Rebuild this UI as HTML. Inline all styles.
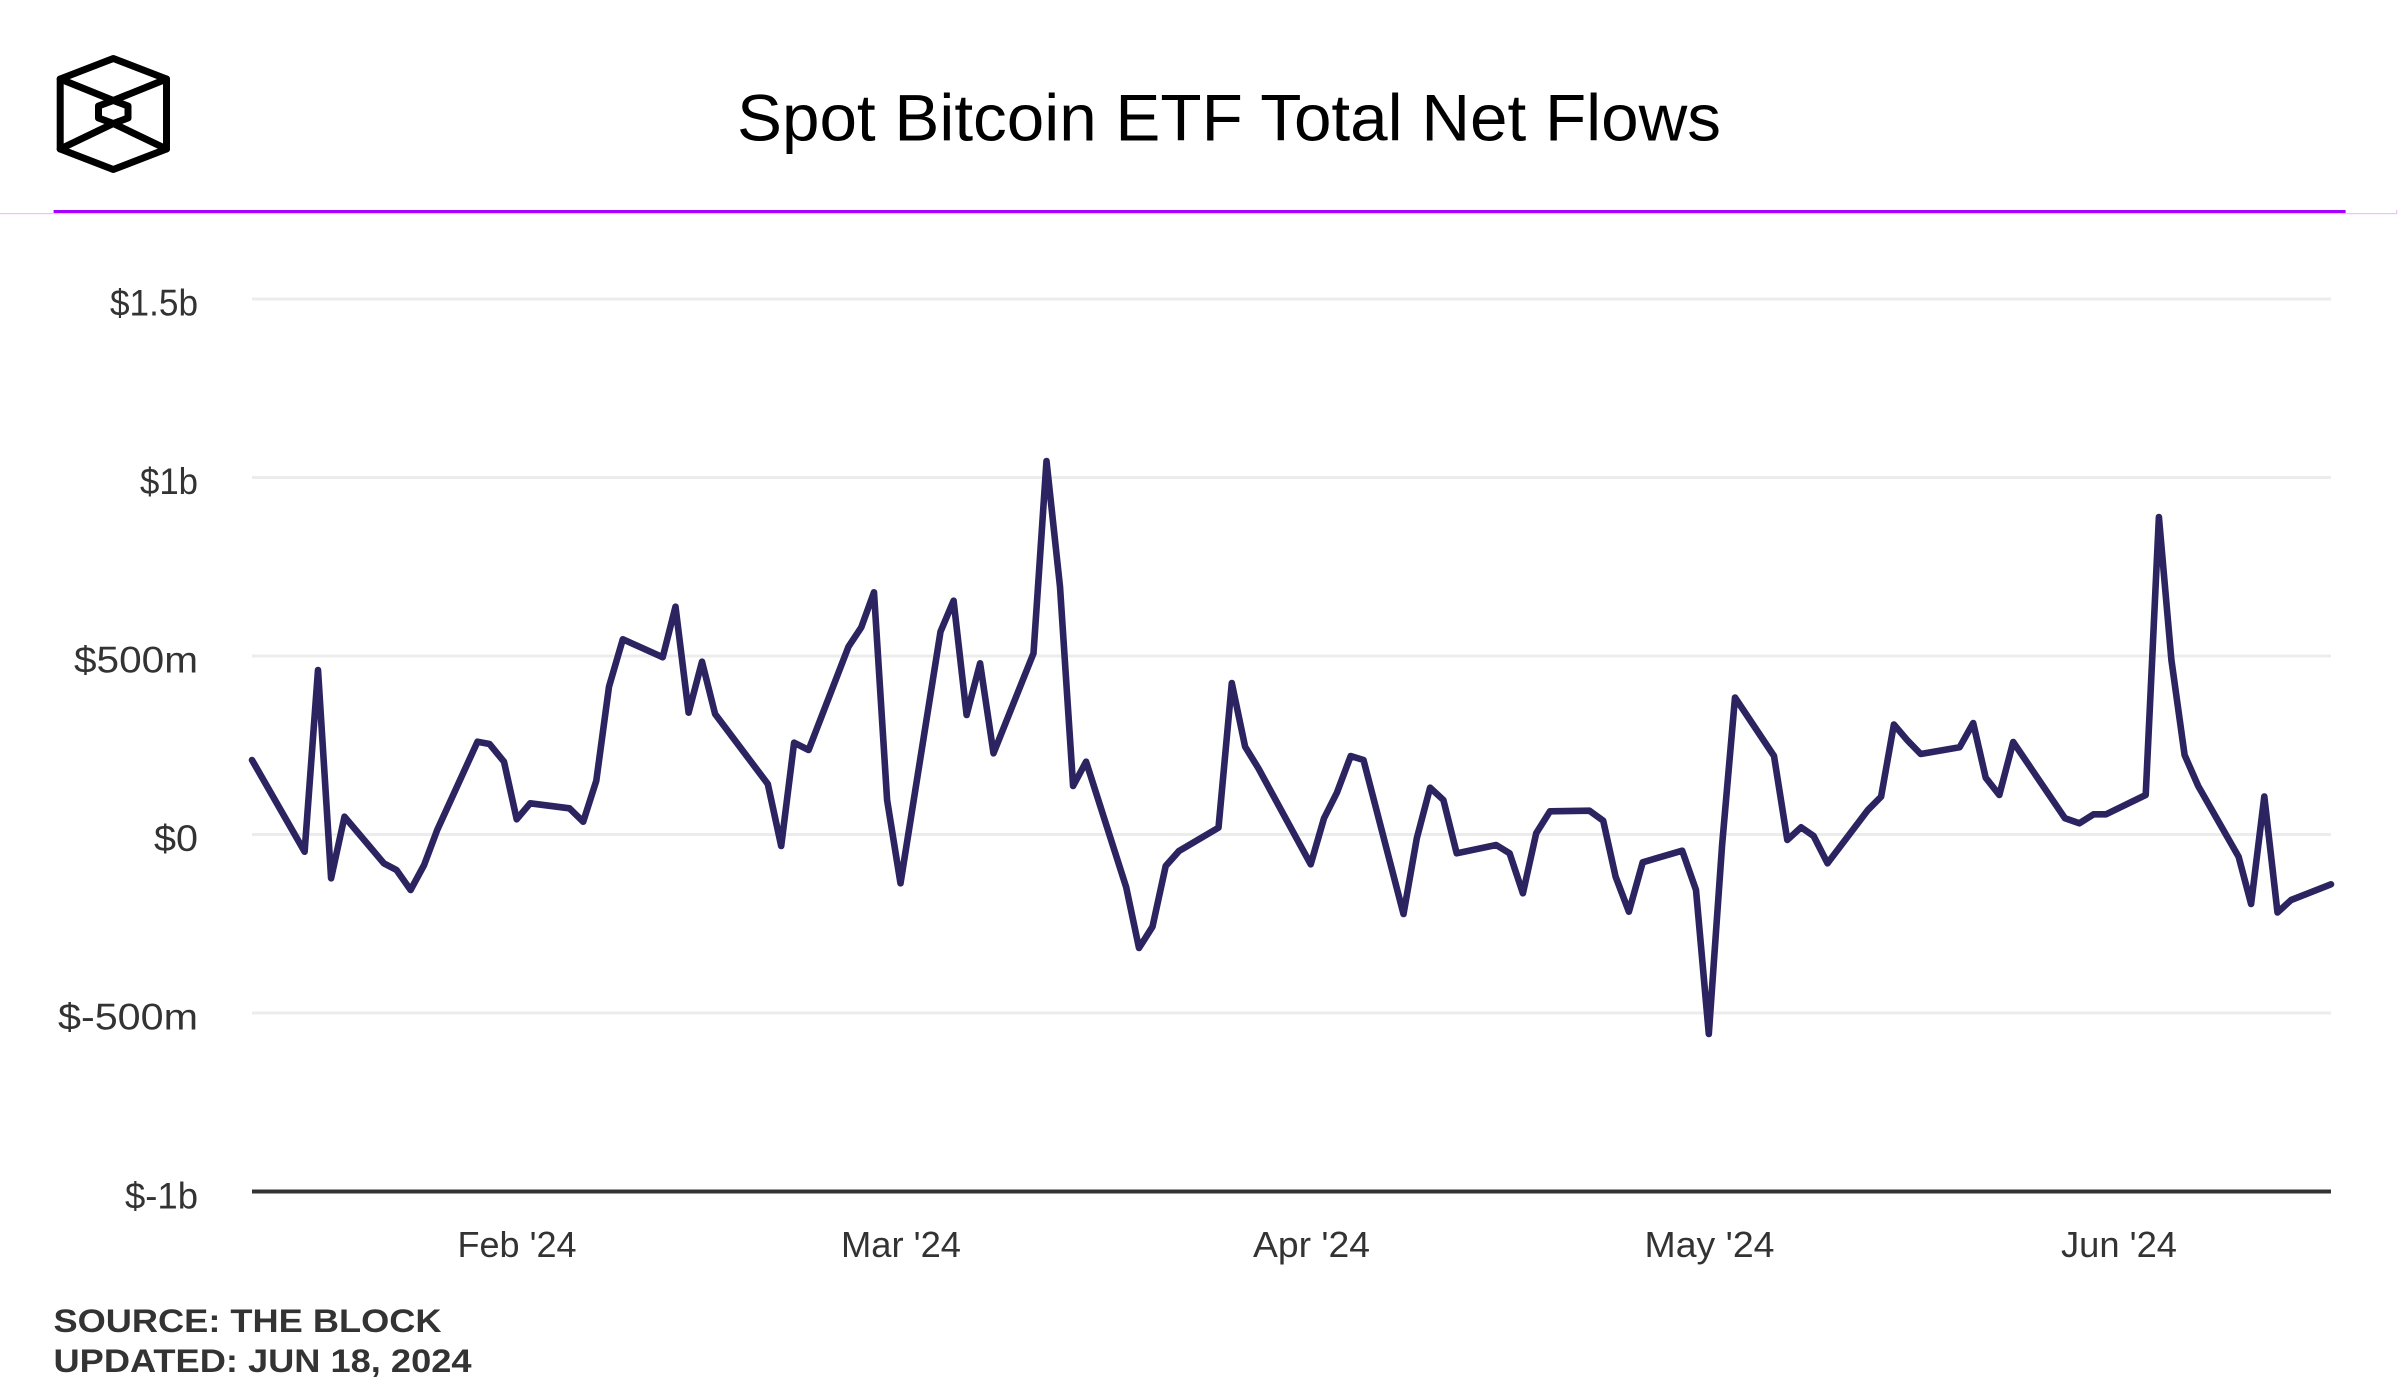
<!DOCTYPE html>
<html>
<head>
<meta charset="utf-8">
<style>
  html, body { margin: 0; padding: 0; background: #ffffff; }
  body { width: 2401px; height: 1400px; overflow: hidden; }
  svg { display: block; }
  text { font-family: "Liberation Sans", "DejaVu Sans", sans-serif; }
</style>
</head>
<body>
<svg width="2401" height="1400" viewBox="0 0 2401 1400" xmlns="http://www.w3.org/2000/svg">
  <rect x="0" y="0" width="2401" height="1400" fill="#ffffff"/>

  <!-- Logo -->
  <g fill="none" stroke="#000000" stroke-width="7" stroke-linejoin="round" stroke-linecap="round">
    <polygon points="113.3,58.5 166.5,79 166.5,149 113.3,169.5 60.2,149 60.2,79"/>
    <polygon points="113.3,100.5 128,106 128,118 113.3,123.5 98.5,118 98.5,106"/>
    <line x1="60.2" y1="79" x2="113.3" y2="100.5"/>
    <line x1="166.5" y1="79" x2="113.3" y2="100.5"/>
    <line x1="60.2" y1="149" x2="113.3" y2="123.5"/>
    <line x1="166.5" y1="149" x2="113.3" y2="123.5"/>
  </g>

  <!-- Title -->
  <text x="737" y="140.7" font-size="66" fill="#000000" textLength="984" lengthAdjust="spacingAndGlyphs">Spot Bitcoin ETF Total Net Flows</text>

  <!-- Header separator -->
  <rect x="0" y="213" width="2397" height="1.2" fill="#e8c4f7"/>
  <rect x="2396" y="210" width="1.2" height="4" fill="#e8c4f7"/>
  <rect x="53.6" y="210" width="2292" height="3" fill="#a600ff"/>

  <!-- Gridlines -->
  <g fill="#ececec">
    <rect x="252" y="297.5" width="2079" height="3"/>
    <rect x="252" y="476" width="2079" height="3"/>
    <rect x="252" y="654.5" width="2079" height="3"/>
    <rect x="252" y="833" width="2079" height="3"/>
    <rect x="252" y="1011.5" width="2079" height="3"/>
  </g>
  <!-- Baseline axis -->
  <rect x="252" y="1189.5" width="2079" height="4" fill="#333333"/>

  <!-- Y labels -->
  <g font-size="37" fill="#333333" text-anchor="end">
    <text x="198" y="315.5" textLength="88" lengthAdjust="spacingAndGlyphs">$1.5b</text>
    <text x="198" y="494" textLength="58" lengthAdjust="spacingAndGlyphs">$1b</text>
    <text x="198" y="672.5" textLength="124" lengthAdjust="spacingAndGlyphs">$500m</text>
    <text x="198" y="851" textLength="44" lengthAdjust="spacingAndGlyphs">$0</text>
    <text x="198" y="1029.5" textLength="140" lengthAdjust="spacingAndGlyphs">$-500m</text>
    <text x="198" y="1208.3" textLength="73" lengthAdjust="spacingAndGlyphs">$-1b</text>
  </g>

  <!-- X labels -->
  <g font-size="36" fill="#333333" text-anchor="middle">
    <text x="517" y="1257" textLength="119" lengthAdjust="spacingAndGlyphs">Feb '24</text>
    <text x="901" y="1257" textLength="120" lengthAdjust="spacingAndGlyphs">Mar '24</text>
    <text x="1311.5" y="1257" textLength="117" lengthAdjust="spacingAndGlyphs">Apr '24</text>
    <text x="1709.5" y="1257" textLength="130" lengthAdjust="spacingAndGlyphs">May '24</text>
    <text x="2119" y="1257" textLength="116" lengthAdjust="spacingAndGlyphs">Jun '24</text>
  </g>

  <!-- Data line -->
  <polyline fill="none" stroke="#2b2461" stroke-width="6.6" stroke-linejoin="round" stroke-linecap="round"
    points="252,760 304.6,851.7 318,670 331.1,878.3 344.5,816.7 383.8,863.3 396.5,870 410.6,890 424.1,865 437.2,830 477.5,741.7 489.5,744 504,761.7 516.7,819.3 530.2,803.3 569.4,808.3 583.2,821.7 596.3,780.7 609,686.7 622.8,639.3 662.7,657.3 675.5,606.7 688.6,712.7 702,661.7 715.1,714 767.8,784 781.2,846 794.1,742.7 808.6,750 848.5,646.7 861.3,627.3 874,592.3 887.1,800 900.5,883.3 940.5,631.7 953.6,600.7 966.6,715 980.1,663.3 993.5,753.3 1033.5,653.3 1046.5,461 1060,586.7 1073.1,786 1086.1,761.7 1126.2,887.3 1139,948 1152.5,926.7 1165.7,866 1179,851 1218.5,827.7 1231.8,683 1245.1,746.7 1258.4,768.3 1310.7,864.3 1324,818.3 1336.9,792.7 1350.7,756 1363.5,760 1403.5,914 1416.8,838.3 1430.1,787.7 1443.4,800 1456.7,853.3 1496.2,845 1509.6,853.3 1522.9,893.3 1536.2,833.3 1550,811.3 1589.4,810.7 1603.2,820.7 1615.6,876.7 1628.9,911.7 1642.7,862.3 1682.2,850.7 1696,890 1708.8,1034 1722.1,845 1735,697.5 1774,756 1787.3,840 1801.1,827.3 1813.6,836 1827.5,863.3 1867.9,810 1881.1,796.7 1893.9,724.5 1907.1,740 1920.7,754 1959.6,747.3 1973.2,723 1985.7,777.7 1999.3,795 2013.2,742 2065,818.3 2079.3,823.3 2093.6,814.3 2106,814.3 2145.7,795 2158.9,517 2171.4,660 2184.6,755 2198.2,786 2238.6,856.7 2251.1,904 2264.3,796.5 2277.5,912.5 2291.1,900 2331,884.3"/>

  <!-- Footer -->
  <g font-size="32" font-weight="bold" fill="#333333">
    <text x="53.5" y="1332" textLength="388" lengthAdjust="spacingAndGlyphs">SOURCE: THE BLOCK</text>
    <text x="53.5" y="1372" textLength="418" lengthAdjust="spacingAndGlyphs">UPDATED: JUN 18, 2024</text>
  </g>
</svg>
</body>
</html>
